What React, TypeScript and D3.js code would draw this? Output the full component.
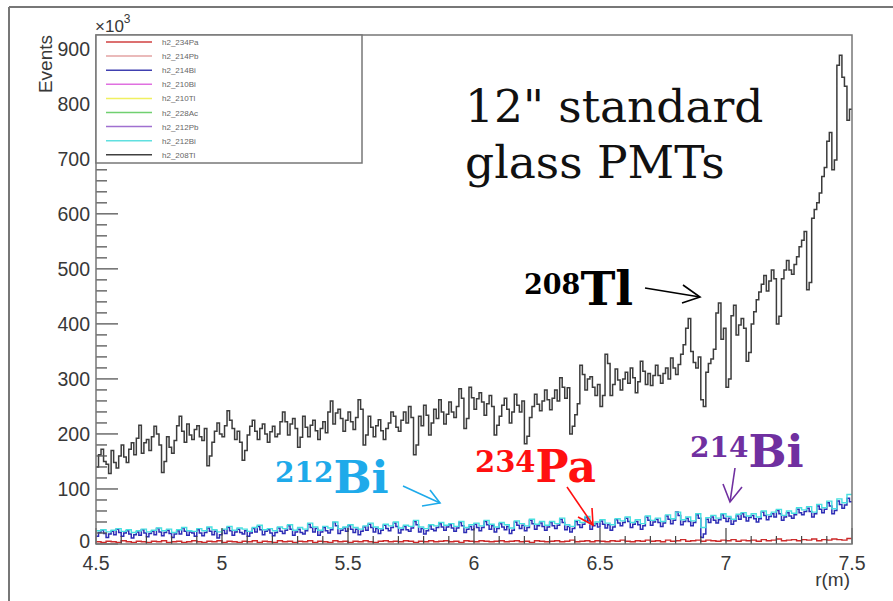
import React from 'react';
import * as d3 from 'd3';

const W = 893;
const H = 601;
const xDomain = [4.5, 7.5];
const yDomain = [0, 925];
const xTicks = [4.5, 5, 5.5, 6, 6.5, 7, 7.5];
const xTickLabels = ['4.5', '5', '5.5', '6', '6.5', '7', '7.5'];
const yTicks = [0, 100, 200, 300, 400, 500, 600, 700, 800, 900];
const yTickLabels = ['0', '100', '200', '300', '400', '500', '600', '700', '800', '900'];

const legendNames = ['h2_234Pa', 'h2_214Pb', 'h2_214Bi', 'h2_210Bi', 'h2_210Tl', 'h2_228Ac', 'h2_212Pb', 'h2_212Bi', 'h2_208Tl'];
const legendColors = ['#d04040', '#e3a3a3', '#4040b0', '#e070e0', '#f0f060', '#70d070', '#a070d0', '#60e0e0', '#404040'];

// 208Tl, 300 bins of 0.01 m from 4.5 to 7.5 (x10^3 events)
const tl208 = [
  140, 162, 172, 150, 145, 128, 170, 148, 138, 160, 180, 158, 148, 172, 184, 162, 192, 216, 165, 184,
  190, 170, 195, 214, 200, 180, 130, 150, 195, 176, 165, 188, 215, 232, 205, 185, 218, 198, 190, 208,
  215, 195, 188, 210, 142, 160, 185, 205, 220, 200, 195, 215, 242, 225, 210, 190, 205, 185, 152, 170,
  198, 214, 225, 205, 190, 210, 218, 200, 185, 204, 214, 195, 200, 222, 240, 222, 198, 218, 228, 210,
  176, 194, 232, 212, 195, 216, 225, 206, 190, 210, 222, 202, 240, 260, 218, 238, 245, 228, 205, 225,
  240, 222, 208, 230, 262, 245, 180, 198, 232, 212, 195, 215, 226, 206, 190, 210, 220, 240, 232, 212,
  205, 225, 240, 220, 250, 230, 162, 180, 232, 215, 252, 234, 198, 220, 245, 228, 262, 240, 218, 236,
  258, 240, 230, 250, 282, 265, 210, 228, 285, 266, 245, 264, 275, 258, 234, 255, 270, 250, 198, 216,
  232, 252, 265, 245, 220, 240, 272, 252, 240, 260, 182, 196, 230, 250, 272, 254, 242, 260, 280, 262,
  244, 265, 280, 260, 302, 285, 265, 284, 200, 214, 235, 255, 325, 308, 280, 300, 304, 285, 270, 290,
  250, 270, 345, 328, 270, 290, 318, 298, 280, 300, 312, 292, 320, 302, 275, 295, 332, 314, 290, 310,
  288, 306, 325, 306, 292, 310, 320, 300, 338, 320, 308, 326, 345, 362, 392, 410, 350, 330, 320, 340,
  262, 250, 312, 328, 336, 354, 420, 438, 372, 392, 285, 300, 415, 434, 380, 398, 410, 392, 332, 348,
  400, 422, 444, 458, 472, 488, 460, 478, 498, 482, 400, 414, 482, 498, 515, 498, 490, 508, 522, 540,
  552, 568, 462, 475, 592, 608, 620, 638, 668, 684, 732, 748, 680, 698, 870, 888, 848, 832, 770, 790,
];

// 214Bi, 300 bins
const bi214 = [
  14, 21, 25, 19, 12, 18, 23, 17, 27, 21, 14, 20, 24, 18, 11, 17, 22, 16, 26, 20,
  13, 19, 23, 17, 28, 22, 15, 21, 25, 19, 12, 18, 24, 18, 29, 23, 16, 22, 20, 14,
  26, 20, 15, 21, 29, 23, 17, 23, 11, 17, 25, 19, 30, 24, 16, 22, 27, 21, 18, 24,
  14, 20, 28, 22, 32, 26, 17, 23, 26, 20, 15, 21, 29, 23, 19, 25, 33, 27, 16, 22,
  27, 21, 18, 24, 36, 30, 22, 28, 16, 22, 30, 24, 20, 26, 39, 33, 19, 25, 29, 23,
  33, 27, 21, 27, 17, 23, 31, 25, 36, 30, 22, 28, 19, 25, 34, 28, 24, 30, 38, 32,
  20, 26, 32, 26, 23, 29, 41, 35, 22, 28, 18, 24, 33, 27, 24, 30, 37, 31, 25, 31,
  35, 29, 23, 29, 39, 33, 21, 27, 32, 26, 36, 30, 24, 30, 41, 35, 27, 33, 22, 28,
  37, 31, 26, 32, 19, 25, 40, 34, 28, 34, 24, 30, 43, 37, 27, 33, 38, 32, 25, 31,
  39, 33, 28, 34, 45, 39, 26, 32, 22, 28, 41, 35, 30, 36, 48, 42, 27, 33, 37, 31,
  42, 36, 29, 35, 25, 31, 44, 38, 33, 39, 47, 41, 30, 36, 41, 35, 27, 33, 49, 43,
  34, 40, 45, 39, 32, 38, 51, 45, 37, 43, 58, 52, 35, 41, 47, 41, 33, 39, 53, 47,
  12, 18, 45, 39, 49, 43, 38, 44, 53, 47, 41, 47, 36, 42, 51, 45, 55, 49, 42, 48,
  52, 46, 40, 46, 58, 52, 44, 50, 55, 49, 61, 55, 43, 49, 57, 51, 47, 53, 63, 57,
  53, 59, 65, 59, 49, 55, 69, 63, 57, 63, 75, 69, 55, 61, 78, 72, 65, 71, 83, 77,
];

// 212Bi, 150 bins of 0.02 m
const bi212 = [
  24, 26, 22, 25, 28, 23, 26, 21, 24, 27,
  22, 25, 29, 24, 27, 21, 26, 30, 24, 23,
  28, 24, 31, 26, 22, 27, 32, 25, 29, 27,
  23, 30, 34, 26, 28, 24, 31, 28, 35, 25,
  30, 27, 38, 31, 25, 32, 29, 40, 28, 31,
  35, 30, 27, 33, 38, 31, 28, 36, 33, 40,
  29, 34, 32, 43, 31, 28, 35, 33, 39, 34,
  37, 32, 41, 30, 35, 38, 33, 43, 36, 31,
  39, 35, 29, 42, 37, 33, 45, 36, 41, 34,
  41, 37, 47, 35, 32, 43, 39, 50, 36, 40,
  44, 38, 35, 46, 42, 49, 39, 44, 37, 51,
  43, 47, 41, 53, 46, 58, 44, 49, 42, 55,
  30, 48, 52, 47, 55, 50, 45, 54, 57, 51,
  55, 49, 60, 53, 58, 63, 52, 60, 56, 66,
  62, 68, 58, 72, 66, 78, 64, 82, 75, 90,
];

// 234Pa, 150 bins of 0.02 m
const pa234 = [
  4, 3, 5, 4, 3, 6, 4, 3, 5, 4, 3, 5, 4, 6, 3, 4, 5, 3, 4, 6, 4, 3, 5, 4, 6, 3, 5, 4, 3, 5,
  4, 6, 3, 5, 4, 3, 6, 4, 5, 3, 5, 4, 6, 3, 5, 4, 3, 6, 4, 5, 3, 5, 4, 6, 4, 3, 5, 6, 4, 5,
  4, 6, 5, 3, 5, 4, 6, 4, 5, 6, 4, 5, 3, 6, 5, 4, 6, 5, 4, 5, 6, 4, 5, 6, 4, 5, 3, 6, 5, 4,
  5, 6, 4, 5, 7, 4, 5, 6, 4, 6, 5, 4, 6, 5, 7, 5, 4, 6, 5, 7, 5, 6, 4, 7, 5, 6, 8, 5, 6, 7,
  5, 7, 6, 5, 7, 6, 8, 5, 7, 6, 7, 5, 8, 6, 7, 9, 6, 7, 8, 6, 8, 7, 9, 6, 8, 7, 9, 8, 7, 10,
];

const L = 96, R = 852, T = 35, B = 544;
const x = d3.scaleLinear().domain(xDomain).range([L, R]);
const y = d3.scaleLinear().domain(yDomain).range([B, T]);

function stepPath(vals: number[]): string {
  const bw = (xDomain[1] - xDomain[0]) / vals.length;
  const pts: [number, number][] = [];
  vals.forEach((v, i) => {
    const x0 = xDomain[0] + i * bw;
    pts.push([x(x0), y(v)], [x(x0 + bw), y(v)]);
  });
  return d3.line()(pts) || '';
}

const series = [
  { vals: pa234, color: '#cc2a2a', w: 1.4 },
  { vals: bi214, color: '#2d2db5', w: 1.5 },
  { vals: bi212, color: '#48e0e0', w: 1.4 },
  { vals: tl208, color: '#3c3c3c', w: 1.5 },
];

const xMinor = d3.range(45, 76, 1).map((d) => d / 10);
const yMinor = d3.range(0, 921, 20);

export default function App() {
  const sans = 'Liberation Sans, Arial, sans-serif';
  const serif = 'DejaVu Serif, serif';
  return (
    <svg width={W} height={H} style={{ position: 'absolute', left: 0, top: 0, background: '#fff' }}>
      <rect x={0} y={0} width={W} height={H} fill="#fff" />
      <line x1={9} y1={7} x2={W} y2={7} stroke="#777" strokeWidth={2} />
      <line x1={9} y1={7} x2={9} y2={H} stroke="#777" strokeWidth={2} />

      <defs>
        <clipPath id="clip">
          <rect x={L} y={T} width={R - L} height={B - T} />
        </clipPath>
      </defs>
      <g clipPath="url(#clip)">
        {series.map((s, i) => (
          <path key={i} d={stepPath(s.vals)} fill="none" stroke={s.color} strokeWidth={s.w} />
        ))}
      </g>

      {xMinor.map((t, i) => {
        const major = Math.abs(t * 2 - Math.round(t * 2)) < 1e-6;
        return <line key={'xm' + i} x1={x(t)} x2={x(t)} y1={B} y2={B - (major ? 16 : 8)} stroke="#444" strokeWidth={1.2} />;
      })}
      {yMinor.map((t, i) => {
        const major = t % 100 === 0;
        return <line key={'ym' + i} x1={L} x2={L + (major ? 22 : 11)} y1={y(t)} y2={y(t)} stroke="#555" strokeWidth={1.3} />;
      })}

      <rect x={L} y={T} width={R - L} height={B - T} fill="none" stroke="#777" strokeWidth={1.5} />

      {yTicks.map((t, i) => (
        <text key={'yl' + i} x={90} y={y(t) + (t === 0 ? 4 : 7)} textAnchor="end" fontFamily={sans} fontSize={19.5} fill="#383838">
          {yTickLabels[i]}
        </text>
      ))}
      {xTicks.map((t, i) => (
        <text key={'xl' + i} x={x(t)} y={570} textAnchor="middle" fontFamily={sans} fontSize={19.5} fill="#383838">
          {xTickLabels[i]}
        </text>
      ))}
      <text x={850} y={586} textAnchor="end" fontFamily={sans} fontSize={19} fill="#383838">r(m)</text>
      <text transform="translate(52,35) rotate(-90)" textAnchor="end" fontFamily={sans} fontSize={19} fill="#383838">Events</text>
      <text x={95} y={32} fontFamily={sans} fontSize={17} fill="#383838">
        ×10<tspan fontSize={12} dy={-9}>3</tspan>
      </text>

      <rect x={L} y={T} width={266} height={128} fill="#fff" stroke="#777" strokeWidth={1.5} />
      {legendNames.map((n, i) => {
        const ly = 42 + i * 14.1;
        return (
          <g key={'lg' + i}>
            <line x1={106} x2={152} y1={ly} y2={ly} stroke={legendColors[i]} strokeWidth={1.5} />
            <text x={162} y={ly + 3} fontFamily={sans} fontSize={8} fill="#666">{n}</text>
          </g>
        );
      })}

      <text x={465} y={122} fontFamily={serif} fontSize={45.5} fill="#111">12" standard</text>
      <text x={465} y={178} fontFamily={serif} fontSize={45.5} fill="#111">glass PMTs</text>

      <text x={524} fontFamily={serif} fontWeight="bold" fill="#000">
        <tspan y={294} fontSize={27}>208</tspan>
        <tspan y={305} fontSize={47}>Tl</tspan>
      </text>
      <g stroke="#000" strokeWidth={1.6} fill="none">
        <line x1={645} y1={288} x2={700} y2={297} />
        <polyline points="683,285 700,297 682,303" />
      </g>

      <text x={275} fontFamily={serif} fontWeight="bold" fill="#1eaaea">
        <tspan y={482} fontSize={28}>212</tspan>
        <tspan y={493} fontSize={45}>Bi</tspan>
      </text>
      <g stroke="#1eaaea" strokeWidth={1.6} fill="none">
        <line x1={403} y1={486} x2={440} y2={503} />
        <polyline points="430,490 440,503 422,506" />
      </g>

      <text x={475} fontFamily={serif} fontWeight="bold" fill="#ff1010">
        <tspan y={472} fontSize={29}>234</tspan>
        <tspan y={482} fontSize={44}>Pa</tspan>
      </text>
      <g stroke="#ff1010" strokeWidth={1.6} fill="none">
        <line x1={567} y1={487} x2={593} y2={525} />
        <polyline points="592,508 593,525 578,517" />
      </g>

      <text x={690} fontFamily={serif} fontWeight="bold" fill="#7030a0">
        <tspan y={457} fontSize={28}>214</tspan>
        <tspan y={467} fontSize={45}>Bi</tspan>
      </text>
      <g stroke="#7030a0" strokeWidth={1.6} fill="none">
        <line x1={735} y1={468} x2={730} y2={502} />
        <polyline points="723,484 730,502 742,487" />
      </g>
    </svg>
  );
}
